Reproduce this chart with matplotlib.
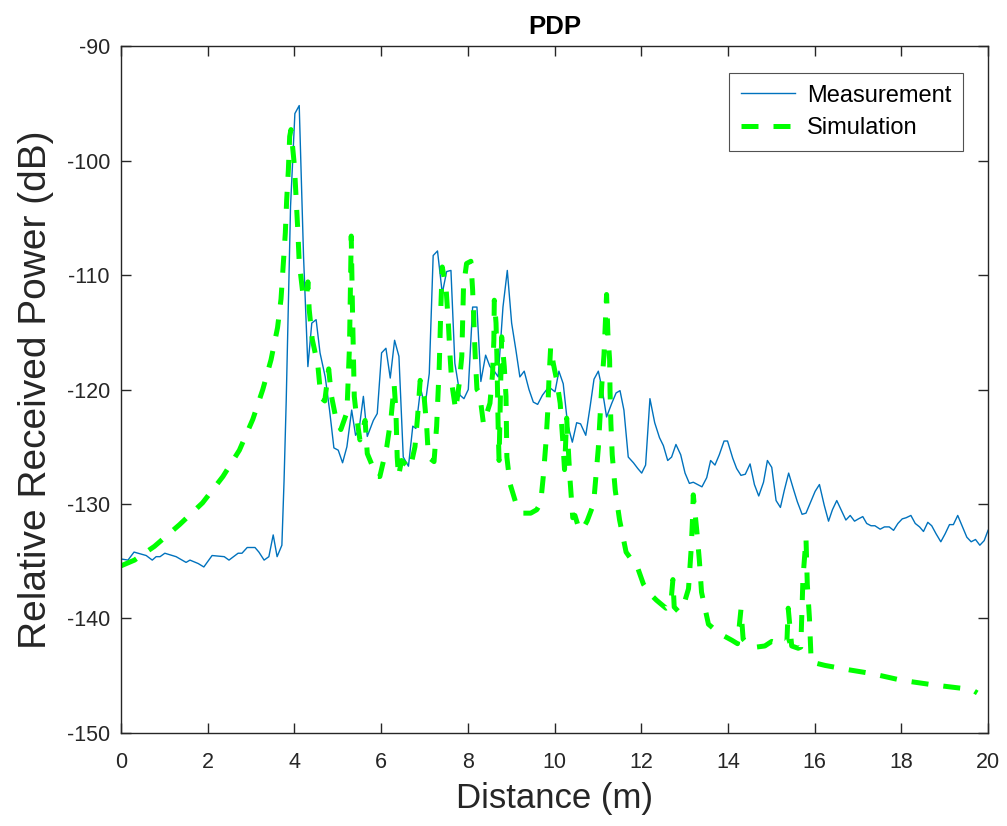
import numpy as np
import matplotlib
matplotlib.use("Agg")
import matplotlib.pyplot as plt

# measured PDP (distance in m, power in dB)
meas_x = [0.00, 0.16, 0.30, 0.58, 0.72, 0.81, 0.90, 1.01, 1.27, 1.50, 1.59, 1.78, 1.91, 2.10, 2.38,
          2.49, 2.70, 2.79, 2.91, 3.09, 3.18, 3.30, 3.41, 3.51, 3.60, 3.71, 3.76, 3.81, 3.91, 4.01,
          4.11, 4.21, 4.31, 4.40, 4.50, 4.59, 4.71, 4.81, 4.91, 5.01, 5.11, 5.21, 5.32, 5.41, 5.49,
          5.59, 5.68, 5.82, 5.91, 6.01, 6.11, 6.21, 6.31, 6.41, 6.51, 6.63, 6.73, 6.80, 6.91, 7.01,
          7.11, 7.20, 7.30, 7.41, 7.51, 7.61, 7.70, 7.82, 7.91, 8.01, 8.11, 8.21, 8.30, 8.41, 8.51,
          8.61, 8.70, 8.81, 8.91, 9.01, 9.11, 9.20, 9.30, 9.41, 9.51, 9.61, 9.72, 9.82, 9.91, 10.01,
          10.10, 10.20, 10.30, 10.41, 10.51, 10.60, 10.72, 10.82, 10.91, 11.01, 11.10, 11.20, 11.32,
          11.42, 11.51, 11.60, 11.70, 11.82, 11.92, 12.01, 12.10, 12.20, 12.31, 12.42, 12.51, 12.61,
          12.70, 12.80, 12.91, 13.01, 13.11, 13.20, 13.30, 13.40, 13.51, 13.60, 13.70, 13.80, 13.91,
          13.99, 14.11, 14.20, 14.30, 14.40, 14.51, 14.61, 14.71, 14.82, 14.91, 15.01, 15.11, 15.21,
          15.30, 15.40, 15.51, 15.60, 15.71, 15.80, 15.91, 16.01, 16.11, 16.22, 16.32, 16.41, 16.51,
          16.61, 16.72, 16.82, 16.92, 17.01, 17.11, 17.20, 17.30, 17.39, 17.51, 17.61, 17.72, 17.82,
          17.92, 18.02, 18.11, 18.22, 18.32, 18.42, 18.51, 18.61, 18.70, 18.80, 18.91, 19.01, 19.11,
          19.20, 19.30, 19.41, 19.51, 19.61, 19.71, 19.81, 19.91, 20.00]
meas_y = [-134.8, -134.9, -134.2, -134.5, -134.9, -134.6, -134.6, -134.3, -134.6, -135.1, -134.9,
          -135.2, -135.5, -134.5, -134.6, -134.9, -134.3, -134.3, -133.8, -133.8, -134.2, -134.9,
          -134.6, -132.7, -134.6, -133.6, -128.0, -121.0, -104.0, -95.9, -95.2, -108.4, -118.0,
          -114.2, -113.9, -116.8, -118.9, -121.8, -125.1, -125.3, -126.4, -125.0, -121.8, -124.0,
          -123.5, -120.6, -124.1, -122.7, -122.1, -116.8, -116.4, -119.0, -115.7, -117.1, -125.9,
          -126.7, -123.2, -123.4, -119.9, -121.5, -118.6, -108.3, -107.9, -111.6, -109.7, -109.6,
          -117.7, -120.5, -120.8, -120.0, -112.8, -112.8, -119.3, -117.0, -118.0, -118.4, -118.9,
          -112.8, -109.6, -114.2, -116.6, -118.9, -118.4, -120.0, -121.1, -121.3, -120.5, -120.0,
          -119.9, -120.2, -118.4, -119.5, -123.0, -124.6, -122.9, -123.0, -124.0, -121.5, -119.1,
          -118.4, -120.0, -122.4, -121.2, -120.3, -120.1, -121.8, -125.9, -126.4, -126.9, -127.3,
          -126.6, -120.8, -122.9, -124.2, -124.9, -126.2, -125.9, -124.8, -125.7, -127.3, -128.2,
          -128.1, -128.3, -128.5, -127.7, -126.2, -126.6, -125.7, -124.5, -124.5, -126.0, -126.9,
          -127.5, -127.4, -126.5, -128.3, -129.3, -128.1, -126.2, -126.8, -129.7, -130.3, -128.8,
          -127.3, -128.7, -129.8, -130.9, -130.8, -129.8, -128.9, -128.3, -130.1, -131.5, -130.5,
          -129.7, -130.5, -131.4, -131.0, -131.5, -131.3, -131.1, -131.7, -131.9, -131.9, -132.2,
          -132.0, -132.0, -132.3, -131.7, -131.3, -131.2, -131.0, -131.7, -132.0, -132.4, -131.6,
          -131.9, -132.6, -133.3, -132.6, -131.8, -131.8, -131.0, -132.0, -132.9, -133.3, -133.1,
          -133.6, -133.2, -132.3]

# simulated PDP
sim_x = [0.00, 0.31, 0.77, 1.35, 1.88, 2.35, 2.73, 3.04, 3.27, 3.46, 3.61, 3.69, 3.74, 3.79, 3.82,
         3.86, 3.89, 3.92, 4.00, 4.04, 4.08, 4.11, 4.19, 4.28, 4.31, 4.34, 4.41, 4.54, 4.61, 4.70,
         4.79, 4.85, 4.96, 5.07, 5.21, 5.27, 5.31, 5.34, 5.38, 5.42, 5.51, 5.63, 5.68, 5.90, 5.97,
         6.13, 6.23, 6.30, 6.34, 6.37, 6.40, 6.47, 6.67, 6.78, 6.84, 6.90, 6.99, 7.05, 7.09, 7.22,
         7.28, 7.34, 7.38, 7.41, 7.50, 7.55, 7.59, 7.63, 7.72, 7.80, 7.86, 7.88, 7.90, 7.97, 8.07,
         8.11, 8.14, 8.17, 8.21, 8.27, 8.36, 8.51, 8.57, 8.60, 8.61, 8.65, 8.67, 8.70, 8.72, 8.78,
         8.84, 8.88, 8.90, 8.97, 9.13, 9.28, 9.45, 9.59, 9.68, 9.74, 9.80, 9.84, 9.87, 9.91, 9.97,
         10.05, 10.13, 10.19, 10.23, 10.28, 10.35, 10.42, 10.47, 10.55, 10.63, 10.75, 10.82, 10.90,
         11.01, 11.09, 11.14, 11.20, 11.23, 11.27, 11.28, 11.30, 11.33, 11.40, 11.50, 11.65, 11.80,
         11.91, 12.05, 12.19, 12.35, 12.57, 12.68, 12.73, 12.76, 12.86, 12.98, 13.09, 13.15, 13.18,
         13.20, 13.28, 13.34, 13.39, 13.55, 13.80, 14.09, 14.22, 14.30, 14.35, 14.47, 14.65, 14.85,
         15.01, 15.20, 15.36, 15.39, 15.47, 15.62, 15.68, 15.73, 15.80, 15.83, 15.88, 15.92, 16.24,
         16.82, 17.30, 18.01, 18.74, 19.62, 19.75]
sim_y = [-135.4, -134.9, -133.7, -131.8, -129.9, -127.6, -125.3, -122.6, -120.0, -117.4, -114.6,
         -112.1, -109.2, -106.3, -103.5, -100.8, -97.9, -97.3, -100.5, -103.4, -106.3, -108.9,
         -111.5, -112.0, -110.6, -113.0, -115.6, -117.9, -120.7, -121.0, -118.2, -120.5, -122.6,
         -123.5, -122.0, -116.2, -106.6, -113.3, -120.6, -122.0, -124.4, -122.7, -125.6, -127.6,
         -127.6, -125.0, -122.4, -119.6, -121.8, -125.9, -127.6, -126.2, -126.9, -125.0, -122.4,
         -119.2, -120.6, -123.2, -125.9, -126.3, -123.2, -118.0, -112.5, -109.3, -111.3, -114.2,
         -117.1, -119.5, -121.8, -119.5, -117.1, -113.9, -111.0, -109.0, -108.8, -111.3, -114.2,
         -117.1, -120.0, -120.3, -123.0, -121.2, -118.6, -115.7, -112.2, -114.2, -117.1, -123.5,
         -126.2, -115.4, -118.0, -120.6, -125.9, -128.2, -130.2, -130.8, -130.8, -130.5, -129.9,
         -127.6, -124.7, -122.1, -119.2, -116.3, -117.7, -119.2, -121.2, -124.5, -127.0, -122.5,
         -127.5, -131.2, -131.0, -132.0, -132.3, -131.5, -130.8, -130.0, -125.1, -119.6, -117.0,
         -111.7, -115.1, -117.4, -120.2, -123.0, -125.7, -128.8, -131.4, -134.2, -135.0, -135.5,
         -137.0, -137.8, -138.4, -139.1, -138.8, -136.6, -139.0, -139.4, -138.8, -137.4, -134.0,
         -131.5, -129.2, -132.3, -134.9, -137.7, -140.5, -141.3, -141.9, -142.2, -139.2, -141.8,
         -142.3, -142.5, -142.4, -142.0, -142.2, -142.0, -139.1, -142.4, -142.6, -142.5, -136.5,
         -133.0, -137.0, -140.0, -143.8, -144.1, -144.5, -144.8, -145.4, -145.8, -146.2, -146.5]

plt.rcParams['font.family'] = ['Liberation Sans', 'DejaVu Sans']
plt.rcParams['axes.unicode_minus'] = False
axcol = '#262626'

fig = plt.figure(figsize=(10.07, 8.26), dpi=100)
ax = fig.add_axes([0.1202, 0.1126, 0.8610, 0.8317])

ax.plot(meas_x, meas_y, color='#0072BD', lw=1.0, label='Measurement')
ax.plot(sim_x, sim_y, color='#00FF00', lw=3.6, dashes=(3.4, 3.0), label='Simulation')

ax.set_xlim(0, 20)
ax.set_ylim(-150, -90)
ax.set_xticks(np.arange(0, 21, 2))
ax.set_yticks(np.arange(-150, -89, 10))
ax.tick_params(direction='in', length=7, width=1, colors=axcol, labelcolor=axcol,
               labelsize=15.5, top=True, right=True)
ax.tick_params(axis='x', pad=14)
ax.tick_params(axis='y', pad=8)
for s in ax.spines.values():
    s.set_color(axcol)
    s.set_linewidth(1)

ax.set_xlabel('Distance (m)', fontsize=25, color=axcol, labelpad=6)
ax.set_ylabel('Relative Received Power (dB)', fontsize=28, color=axcol, labelpad=9)
ax.set_title('PDP', fontsize=18.5, fontweight='bold', pad=9)

leg = ax.legend(loc='upper right', bbox_to_anchor=(0.971, 0.961), fontsize=17, frameon=True,
                fancybox=False, edgecolor=axcol, handlelength=2.3, borderpad=0.5,
                labelspacing=0.45, handletextpad=0.5, borderaxespad=0)
leg.get_frame().set_linewidth(0.8)

fig.savefig('out.png', dpi=100)
